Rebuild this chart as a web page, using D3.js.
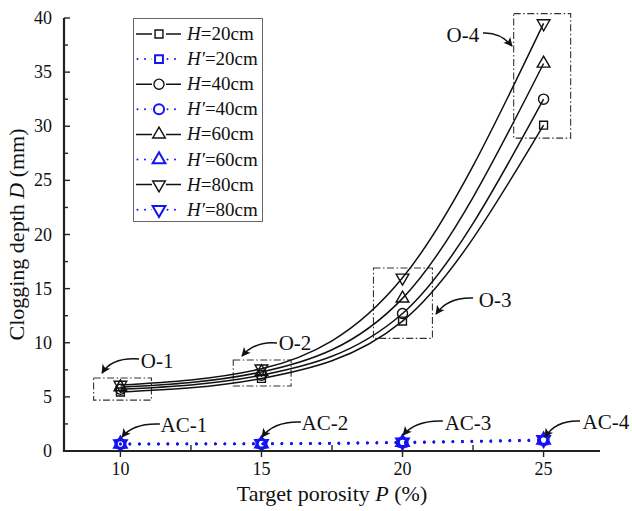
<!DOCTYPE html>
<html>
<head>
<meta charset="utf-8">
<script src="https://cdn.jsdelivr.net/npm/d3@7"></script>
<style>
  html, body { margin: 0; padding: 0; background: #fff; }
  svg { display: block; }
  text { font-family: "Liberation Serif", "Times New Roman", serif; fill: #111; }
</style>
</head>
<body>
<svg id="chart" width="632" height="511"></svg>
<script>
// Target porosity (%)
const porosity = [10, 15, 20, 25];

// Clogging depth D (mm), series H (solid black)
const H20 = [5.45, 6.7, 12.0, 30.1];
const H40 = [5.7, 7.0, 12.7, 32.5];
const H60 = [5.9, 7.3, 14.1, 35.8];
const H80 = [6.1, 7.6, 16.0, 39.5];

// Clogging depth D (mm), series H' (blue dotted)
const Hp20 = [0.63, 0.65, 0.76, 0.98];
const Hp40 = [0.64, 0.66, 0.78, 1.0];
const Hp60 = [0.65, 0.67, 0.8, 1.02];
const Hp80 = [0.66, 0.68, 0.81, 1.04];

const seriesNames = ["H=20cm", "H'=20cm", "H=40cm", "H'=40cm", "H=60cm", "H'=60cm", "H=80cm", "H'=80cm"];

const xTicks = [10, 15, 20, 25];
const yTicks = [0, 5, 10, 15, 20, 25, 30, 35, 40];

// Dash-dot frames around each porosity group (data units)
const groupBoxes = [
  { x0: 9.05, x1: 11.1, y0: 4.7, y1: 6.75 },
  { x0: 14.0, x1: 16.05, y0: 6.0, y1: 8.4 },
  { x0: 18.97, x1: 21.06, y0: 10.4, y1: 16.9 },
  { x0: 23.94, x1: 25.96, y0: 28.9, y1: 40.4 }
];

// Callout labels with curved arrows (data units): text centre, arrow start, control, tip
const callouts = [
  { label: "O-1", tx: 11.30, ty: 8.31, sx: 10.66, sy: 8.5, cx: 9.70, cy: 8.68, ex: 9.35, ey: 7.2 },
  { label: "O-2", tx: 16.19, ty: 9.98, sx: 15.55, sy: 9.98, cx: 14.77, cy: 10.16, ex: 14.31, ey: 8.78 },
  { label: "O-3", tx: 23.28, ty: 13.95, sx: 22.50, sy: 14.13, cx: 21.61, cy: 14.23, ex: 21.19, ey: 12.66 },
  { label: "O-4", tx: 22.14, ty: 38.43, sx: 22.85, sy: 38.61, cx: 23.46, cy: 38.71, ex: 23.88, ey: 37.41 },
  { label: "AC-1", tx: 12.25, ty: 2.40, sx: 11.40, sy: 2.49, cx: 10.45, cy: 2.59, ex: 10.06, ey: 1.29 },
  { label: "AC-2", tx: 17.25, ty: 2.59, sx: 16.40, sy: 2.68, cx: 15.44, cy: 2.77, ex: 15.02, ey: 1.29 },
  { label: "AC-3", tx: 22.32, ty: 2.59, sx: 21.43, sy: 2.77, cx: 20.48, cy: 2.86, ex: 20.02, ey: 1.48 },
  { label: "AC-4", tx: 27.21, ty: 2.68, sx: 26.29, sy: 2.77, cx: 25.44, cy: 2.86, ex: 25.05, ey: 1.29 }
];

const svg = d3.select("#chart");
const x = d3.scaleLinear().domain([8, 27]).range([64, 600]);
const y = d3.scaleLinear().domain([0, 40]).range([451, 18]);

const BLUE = "#1414f0";
const BLACK = "#111";

// Marker symbols
const shapes = {
  square: d3.symbol().type(d3.symbolSquare).size(62),
  circle: d3.symbol().type(d3.symbolCircle).size(80),
  up: d3.symbol().type(d3.symbolTriangle).size(70),
  down: d3.symbol().type(d3.symbolTriangle).size(70)
};
function drawSymbol(g, kind, cx, cy, color, sw) {
  g.append("path")
    .attr("d", shapes[kind]())
    .attr("transform", `translate(${cx},${cy})` + (kind === "down" ? " rotate(180)" : ""))
    .attr("fill", "none")
    .attr("stroke", color)
    .attr("stroke-width", sw);
}

const series = [
  { vals: H20, kind: "square", blue: false },
  { vals: Hp20, kind: "square", blue: true },
  { vals: H40, kind: "circle", blue: false },
  { vals: Hp40, kind: "circle", blue: true },
  { vals: H60, kind: "up", blue: false },
  { vals: Hp60, kind: "up", blue: true },
  { vals: H80, kind: "down", blue: false },
  { vals: Hp80, kind: "down", blue: true }
];

const line = d3.line()
  .x(d => x(d[0]))
  .y(d => y(d[1]))
  .curve(d3.curveMonotoneX);

// Group frames
const boxes = svg.append("g");
groupBoxes.forEach(b => {
  boxes.append("rect")
    .attr("x", x(b.x0)).attr("y", y(b.y1))
    .attr("width", x(b.x1) - x(b.x0))
    .attr("height", y(b.y0) - y(b.y1))
    .attr("fill", "none")
    .attr("stroke", "#333")
    .attr("stroke-width", 1.1)
    .attr("stroke-dasharray", "7 2.5 1.5 2.5");
});

// Curves
const curves = svg.append("g");
series.forEach(s => {
  const pts = porosity.map((p, i) => [p, s.vals[i]]);
  const path = curves.append("path")
    .attr("d", line(pts))
    .attr("fill", "none");
  if (s.blue) {
    path.attr("stroke", BLUE).attr("stroke-width", 2.6)
      .attr("stroke-linecap", "round").attr("stroke-dasharray", "0 9.5");
  } else {
    path.attr("stroke", BLACK).attr("stroke-width", 1.5);
  }
});

// Markers
const marks = svg.append("g");
series.forEach(s => {
  porosity.forEach((p, i) => {
    drawSymbol(marks, s.kind, x(p), y(s.vals[i]), s.blue ? BLUE : BLACK, s.blue ? 2 : 1.4);
  });
});

// Axes
const axisG = svg.append("g");
axisG.append("line").attr("x1", x(8)).attr("x2", x(27)).attr("y1", y(0)).attr("y2", y(0))
  .attr("stroke", "#222").attr("stroke-width", 2.2);
axisG.append("line").attr("x1", x(8)).attr("x2", x(8)).attr("y1", y(0) + 1).attr("y2", y(40))
  .attr("stroke", "#222").attr("stroke-width", 2.2);

// x ticks: major outward, minor inward
xTicks.forEach(t => {
  axisG.append("line").attr("x1", x(t)).attr("x2", x(t)).attr("y1", y(0)).attr("y2", y(0) + 6)
    .attr("stroke", "#222").attr("stroke-width", 1.4);
  axisG.append("text").attr("x", x(t)).attr("y", y(0) + 24)
    .attr("text-anchor", "middle").attr("font-size", 18).text(t);
});
[12.5, 17.5, 22.5].forEach(t => {
  axisG.append("line").attr("x1", x(t)).attr("x2", x(t)).attr("y1", y(0)).attr("y2", y(0) - 6)
    .attr("stroke", "#222").attr("stroke-width", 1.4);
});

// y ticks inward
yTicks.forEach(t => {
  axisG.append("line").attr("x1", x(8)).attr("x2", x(8) + 6).attr("y1", y(t)).attr("y2", y(t))
    .attr("stroke", "#222").attr("stroke-width", 1.4);
  axisG.append("text").attr("x", x(8) - 12).attr("y", y(t) + 6)
    .attr("text-anchor", "end").attr("font-size", 18).text(t);
});
d3.range(2.5, 40, 5).forEach(t => {
  axisG.append("line").attr("x1", x(8)).attr("x2", x(8) + 4).attr("y1", y(t)).attr("y2", y(t))
    .attr("stroke", "#222").attr("stroke-width", 1.4);
});

// Axis titles
const xt = axisG.append("text").attr("x", (x(8) + x(27)) / 2).attr("y", 501)
  .attr("text-anchor", "middle").attr("font-size", 22);
xt.append("tspan").text("Target porosity ");
xt.append("tspan").attr("font-style", "italic").text("P");
xt.append("tspan").text(" (%)");

const yt = axisG.append("text")
  .attr("transform", `translate(24,${(y(0) + y(40)) / 2}) rotate(-90)`)
  .attr("text-anchor", "middle").attr("font-size", 22);
yt.append("tspan").text("Clogging depth ");
yt.append("tspan").attr("font-style", "italic").text("D");
yt.append("tspan").text(" (mm)");

// Callouts
svg.append("defs").append("marker")
  .attr("id", "arrowHead")
  .attr("viewBox", "0 0 10 10")
  .attr("refX", 9).attr("refY", 5)
  .attr("markerWidth", 10).attr("markerHeight", 9)
  .attr("markerUnits", "userSpaceOnUse")
  .attr("orient", "auto")
  .append("path").attr("d", "M0,0 L10,5 L0,10 L2.5,5 Z").attr("fill", "#111");

const ann = svg.append("g");
callouts.forEach(c => {
  ann.append("path")
    .attr("d", `M${x(c.sx)},${y(c.sy)} Q${x(c.cx)},${y(c.cy)} ${x(c.ex)},${y(c.ey)}`)
    .attr("fill", "none").attr("stroke", "#111").attr("stroke-width", 1.6)
    .attr("marker-end", "url(#arrowHead)");
  ann.append("text").attr("x", x(c.tx)).attr("y", y(c.ty) + 7)
    .attr("text-anchor", "middle").attr("font-size", 21).text(c.label);
});

// Legend
const lg = svg.append("g");
lg.append("rect").attr("x", 133.5).attr("y", 18.5).attr("width", 129).attr("height", 203)
  .attr("fill", "#fff").attr("stroke", "#666").attr("stroke-width", 1);
series.forEach((s, i) => {
  const cy = 34 + i * 25.1;
  const ln = lg.append("line").attr("x1", 136).attr("x2", 181).attr("y1", cy).attr("y2", cy);
  if (s.blue) {
    ln.attr("stroke", BLUE).attr("stroke-width", 2).attr("stroke-linecap", "round")
      .attr("stroke-dasharray", "0 7.5").attr("x1", 137.5);
  } else {
    ln.attr("stroke", BLACK).attr("stroke-width", 1.5);
  }
  lg.append("rect").attr("x", 152).attr("y", cy - 6).attr("width", 14).attr("height", 12).attr("fill", "#fff");
  drawSymbol(lg, s.kind, 159, cy, s.blue ? BLUE : BLACK, s.blue ? 2 : 1.4);
  const name = seriesNames[i];
  const t = lg.append("text").attr("x", 187).attr("y", cy + 6).attr("font-size", 19);
  const sym = name.startsWith("H'") ? "H\u2032" : "H";
  t.append("tspan").attr("font-style", "italic").text(sym);
  t.append("tspan").text(name.slice(name.indexOf("=")));
});
</script>
</body>
</html>
